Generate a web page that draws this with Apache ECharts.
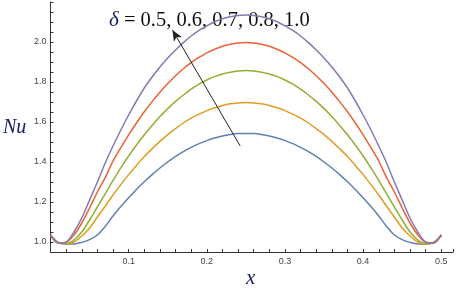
<!DOCTYPE html>
<html><head><meta charset="utf-8">
<script src="https://cdn.jsdelivr.net/npm/echarts@6/dist/echarts.min.js"></script>
<style>html,body{margin:0;padding:0;background:#fff}#c{width:456px;height:291px}</style>
</head><body><div id="c"></div>
<script>
// x positions (step 0.01)
const xValues = [0,0.01,0.02,0.03,0.04,0.05,0.06,0.07,0.08,0.09,0.10,0.11,0.12,0.13,0.14,0.15,0.16,0.17,0.18,0.19,0.20,0.21,0.22,0.23,0.24,0.25,0.26,0.27,0.28,0.29,0.30,0.31,0.32,0.33,0.34,0.35,0.36,0.37,0.38,0.39,0.40,0.41,0.42,0.43,0.44,0.45,0.46,0.47,0.48,0.49,0.50];
// Nu for delta = 0.5, 0.6, 0.7, 0.8, 1.0
const nuDelta05 = [1.03,0.998,0.99,0.99,0.998,1.012,1.035,1.078,1.13,1.177,1.221,1.263,1.301,1.337,1.37,1.40,1.428,1.452,1.473,1.492,1.507,1.52,1.53,1.537,1.542,1.543,1.542,1.537,1.53,1.52,1.507,1.492,1.473,1.452,1.428,1.40,1.37,1.337,1.301,1.263,1.221,1.177,1.13,1.078,1.035,1.012,0.998,0.99,0.99,0.998,1.03];
const nuDelta06 = [1.035,0.997,0.99,1.0,1.03,1.07,1.125,1.179,1.235,1.287,1.337,1.383,1.427,1.466,1.503,1.537,1.567,1.595,1.619,1.639,1.657,1.671,1.683,1.691,1.695,1.697,1.695,1.691,1.683,1.671,1.657,1.639,1.619,1.595,1.567,1.537,1.503,1.466,1.427,1.383,1.337,1.287,1.235,1.179,1.125,1.07,1.03,1.0,0.99,0.997,1.035];
const nuDelta07 = [1.035,0.997,0.992,1.01,1.05,1.11,1.175,1.241,1.308,1.371,1.43,1.485,1.536,1.583,1.627,1.667,1.703,1.735,1.764,1.789,1.81,1.827,1.84,1.849,1.855,1.857,1.855,1.849,1.84,1.827,1.81,1.789,1.764,1.735,1.703,1.667,1.627,1.583,1.536,1.485,1.43,1.371,1.308,1.241,1.175,1.11,1.05,1.01,0.992,0.997,1.035];
const nuDelta08 = [1.035,0.995,0.998,1.035,1.095,1.17,1.25,1.322,1.405,1.472,1.536,1.595,1.651,1.702,1.749,1.792,1.831,1.866,1.897,1.923,1.946,1.964,1.979,1.989,1.995,1.997,1.995,1.989,1.979,1.964,1.946,1.923,1.897,1.866,1.831,1.792,1.749,1.702,1.651,1.595,1.536,1.472,1.405,1.322,1.25,1.17,1.095,1.035,0.998,0.995,1.035];
const nuDelta10 = [1.035,0.995,1.0,1.05,1.12,1.21,1.30,1.395,1.48,1.56,1.635,1.705,1.77,1.825,1.875,1.92,1.96,1.997,2.03,2.058,2.081,2.101,2.116,2.126,2.133,2.135,2.133,2.126,2.116,2.101,2.081,2.058,2.03,1.997,1.96,1.92,1.875,1.825,1.77,1.705,1.635,1.56,1.48,1.395,1.30,1.21,1.12,1.05,1.0,0.995,1.035];
const seriesNames = ['δ = 0.5','δ = 0.6','δ = 0.7','δ = 0.8','δ = 1.0'];
const seriesColors = ['#5E81B5','#E19C24','#8FB032','#EB6235','#8778B3'];
// ticks: every 0.02 on x (labels every 0.1), every 0.05 on y (labels every 0.2)
const xTickStep = 0.02, xLabelStep = 0.1;
const yTickStep = 0.05, yLabelStep = 0.2;
// arrow annotation (data coordinates)
const arrowFrom = [0.2427,1.48];
const arrowTo = [0.156,2.06];

const allSeries = [nuDelta05,nuDelta06,nuDelta07,nuDelta08,nuDelta10];
const X_MIN = 0, X_MAX = 0.515, Y_MIN = 0.95, Y_MAX = 2.2;
const AXIS_COLOR = '#333';
const isMultiple = (v, step) => Math.abs(v/step - Math.round(v/step)) < 1e-6;

const chart = echarts.init(document.getElementById('c'));
const labelStyle = {color:'#444', fontSize:9, fontFamily:'Arial, Liberation Sans, sans-serif'};
const series = allSeries.map((arr,i)=>({
  name: seriesNames[i], type:'line',
  data: xValues.map((x,j)=>[x,arr[j]]),
  smooth: 0.3, symbol:'none', lineStyle:{color:seriesColors[i], width:1.5},
  itemStyle:{color:seriesColors[i]}, z:3
}));
series[4].markLine = {
  silent:true, symbol:['none','arrow'], symbolSize:[7,11],
  label:{show:false}, lineStyle:{color:'#222', width:1, type:'solid'},
  emphasis:{disabled:true},
  data:[[{coord:arrowFrom},{coord:arrowTo}]]
};
chart.setOption({
  animation:false,
  grid:{left:50.5, top:2, width:404.3, height:250},
  xAxis:{type:'value', min:X_MIN, max:X_MAX, interval:xTickStep,
     axisLine:{show:true, onZero:false, lineStyle:{color:AXIS_COLOR, width:1}},
     axisTick:{show:true, inside:true, length:3, lineStyle:{color:AXIS_COLOR, width:1}},
     axisLabel:{show:true, margin:5, showMinLabel:true, showMaxLabel:true,
       formatter:v=>(v>0 && v<=0.5001 && isMultiple(v,xLabelStep)) ? v.toFixed(1) : '', ...labelStyle},
     splitLine:{show:false}},
  yAxis:{type:'value', min:Y_MIN, max:Y_MAX, interval:yTickStep,
     axisLine:{show:true, onZero:false, lineStyle:{color:AXIS_COLOR, width:1}},
     axisTick:{show:true, inside:true, length:3, lineStyle:{color:AXIS_COLOR, width:1}},
     axisLabel:{show:true, margin:4,
       formatter:v=>(v>=0.999 && v<=2.001 && isMultiple(v,yLabelStep)) ? v.toFixed(1) : '', ...labelStyle},
     splitLine:{show:false}},
  series: series,
  graphic:[
    {type:'text', left:109, top:10, silent:true, style:{
      text:'{d|δ} = 0.5, 0.6, 0.7, 0.8, 1.0', fill:'#111',
      font:'20.5px "Liberation Serif", "Times New Roman", serif',
      rich:{d:{fontStyle:'italic', fontFamily:'Liberation Serif', fontSize:21, fill:'#1c2260'}}
    }},
    {type:'text', left:3, top:118, silent:true, style:{
      text:'Nu', fill:'#1c2260', font:'italic 20px "Liberation Serif", serif'}},
    {type:'text', left:246, top:268, silent:true, style:{
      text:'x', fill:'#1c2260', font:'italic 21px "Liberation Serif", serif'}}
  ]
});
</script></body></html>
